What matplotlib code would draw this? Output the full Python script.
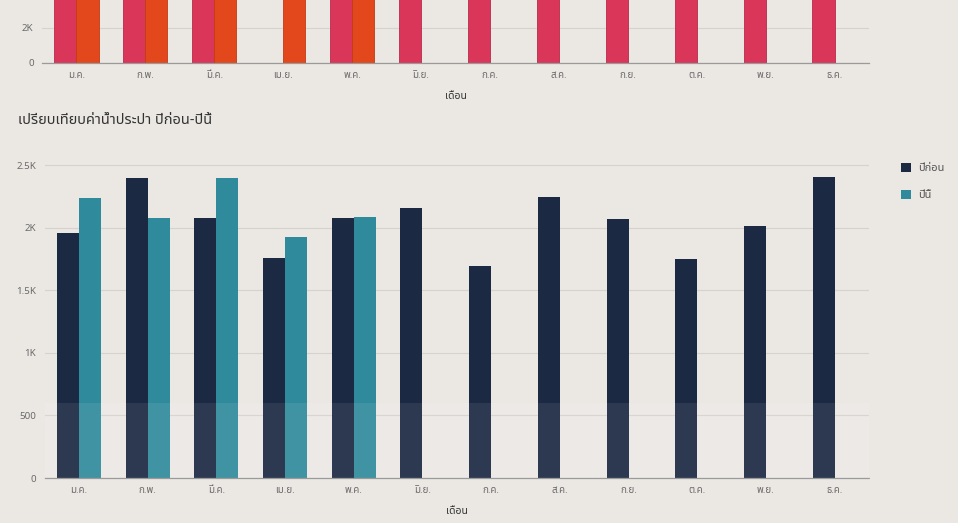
import matplotlib
matplotlib.use("Agg")
import matplotlib.pyplot as plt
import numpy as np

plt.rcParams['font.family'] = ['Noto Sans Thai', 'DejaVu Sans']

months = ['ม.ค.', 'ก.พ.', 'มี.ค.', 'เม.ย.', 'พ.ค.', 'มิ.ย.',
          'ก.ค.', 'ส.ค.', 'ก.ย.', 'ต.ค.', 'พ.ย.', 'ธ.ค.']

# upper chart (cut off by the page edge) - values above the visible part
top_prev = [4100, 4300, 4000, np.nan, 4200, 4150, 4050, 4250, 4100, 3950, 4000, 4300]
top_curr = [4000, 4200, 4350, 3900, 4100, np.nan, np.nan, np.nan, np.nan, np.nan, np.nan, np.nan]

# water bill: last year vs this year
prev_year = [1960, 2400, 2080, 1760, 2080, 2160, 1690, 2245, 2070, 1750, 2010, 2405]
this_year = [2235, 2075, 2400, 1925, 2085, np.nan, np.nan, np.nan, np.nan, np.nan, np.nan, np.nan]

bg = '#ebe8e4'
navy = '#1c2942'
teal = '#2f8a9b'
pink = '#d9365a'
orange = '#e2481b'
tick_col = '#6a6a6a'

fig = plt.figure(figsize=(9.58, 5.23), dpi=100)
fig.patch.set_facecolor(bg)

x = np.arange(len(months))
w = 0.32


def style(ax, yticks, ylabels, ymax):
    ax.set_facecolor(bg)
    ax.set_xlim(-0.5, len(months) - 0.5)
    ax.set_ylim(0, ymax)
    ax.set_yticks(yticks)
    ax.set_yticklabels(ylabels, fontsize=7, color=tick_col)
    ax.set_xticks(x)
    ax.set_xticklabels(months, fontsize=7, color=tick_col)
    ax.tick_params(length=0, pad=6)
    for s in ['top', 'right', 'left']:
        ax.spines[s].set_visible(False)
    ax.spines['bottom'].set_color('#9a9a9a')
    ax.spines['bottom'].set_linestyle((0, (2, 1)))
    ax.spines['bottom'].set_linewidth(0.9)
    ax.grid(axis='y', color='#d6d3cf', linewidth=0.8)
    ax.set_axisbelow(True)
    ax.set_xlabel('เดือน', fontsize=7.5, color='#333333', labelpad=8)


# top chart, runs off the top of the image
ax1 = fig.add_axes([42 / 958, 1 - 63 / 523, 827 / 958, 103 / 523])
ax1.bar(x - w / 2, top_prev, w, color=pink, edgecolor='#b82a48', linewidth=0.6)
ax1.bar(x + w / 2, top_curr, w, color=orange, edgecolor='#c23c14', linewidth=0.6)
style(ax1, [0, 2000], ['0', '2K'], 5880)

# bottom chart
ax2 = fig.add_axes([44.6 / 958, 1 - 478 / 523, 824.4 / 958, 323 / 523])
ax2.bar(x - w / 2, prev_year, w, color=navy, label='ปีก่อน')
ax2.bar(x + w / 2, this_year, w, color=teal, label='ปีนี้')
style(ax2, [0, 500, 1000, 1500, 2000, 2500],
      ['0', '500', '1K', '1.5K', '2K', '2.5K'], 2580)
# lighter band across the lower part of the photo
ax2.axhspan(0, 600, color='white', alpha=0.08, zorder=3, linewidth=0)

fig.text(18 / 958, 1 - 120 / 523, 'เปรียบเทียบค่าน้ำประปา ปีก่อน-ปีนี้',
         fontsize=10.5, color='#333333', va='center', ha='left')

fig.legend(loc='upper left', bbox_to_anchor=(891 / 958, 1 - 153 / 523),
           frameon=False, fontsize=8, labelcolor='#555555',
           handlelength=0.9, handleheight=0.9, handletextpad=0.6,
           labelspacing=1.4)

fig.savefig('out.png', dpi=100, facecolor=bg)
